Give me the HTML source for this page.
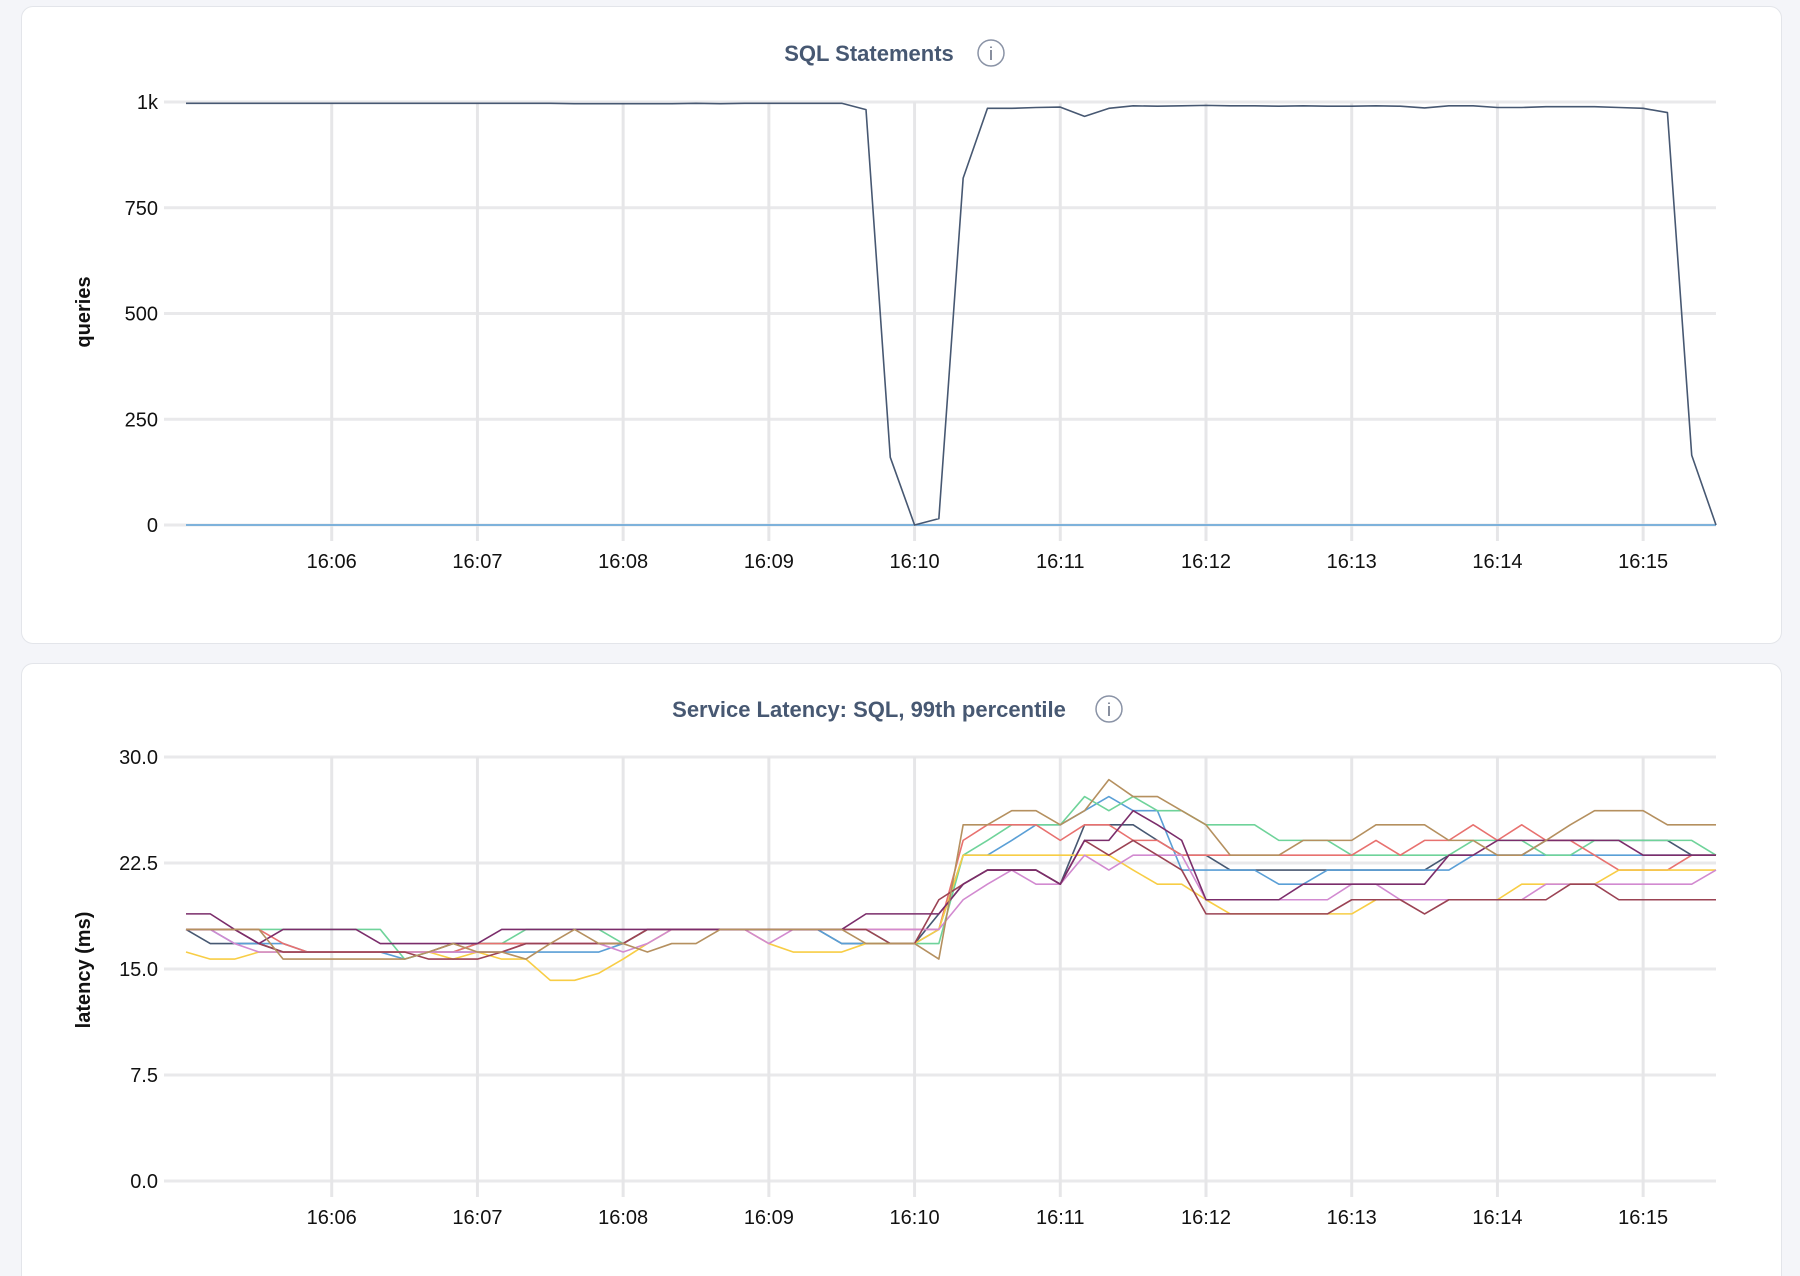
<!DOCTYPE html>
<html><head><meta charset="utf-8"><style>
html,body{margin:0;padding:0;background:#f4f5f9;width:1800px;height:1276px;overflow:hidden;font-family:"Liberation Sans",sans-serif}
#wrap{position:relative;width:1800px;height:1276px;overflow:hidden}
.panel{position:absolute;left:21px;width:1761px;background:#fff;border:1px solid #e3e5ea;border-radius:12px;box-sizing:border-box}
svg{position:absolute;left:0;top:0}
</style></head><body>
<div id="wrap">
<div class="panel" style="top:6px;height:638px"></div>
<div class="panel" style="top:663px;height:613px;border-bottom:none;border-radius:12px 12px 0 0"></div>
<svg id="chart" width="1800" height="1276"></svg>
</div>
<script>
const timeTicks=["16:06","16:07","16:08","16:09","16:10","16:11","16:12","16:13","16:14","16:15"];
const sqlTicks=[0,250,500,750,1000];
const sqlTickLabels=["0","250","500","750","1k"];
const latTicks=[0,7.5,15,22.5,30];
const latTickLabels=["0.0","7.5","15.0","22.5","30.0"];
// 64 samples every 10s starting 16:05:00
const sqlMain=[997,997,997,997,997,997,997,997,997,997,997,997,997,997,997,997,996,996,996,996,996,997,996,997,997,997,997,997,982,160,0,15,820,985,985,987,988,966,985,991,990,991,992,991,991,990,991,990,990,991,990,986,991,991,987,987,989,989,989,987,985,975,165,0];
const sqlZero=new Array(64).fill(0);
const latNavy=[17.8,16.8,16.8,16.8,16.2,16.2,16.2,16.2,16.2,16.2,16.2,16.8,16.8,16.8,16.8,16.8,16.8,16.8,16.8,17.8,17.8,17.8,17.8,17.8,17.8,17.8,17.8,16.8,16.8,16.8,16.8,18.9,21.0,22.0,22.0,22.0,21.0,25.2,25.2,25.2,24.1,23.05,23.05,22.0,22.0,22.0,22.0,22.0,22.0,22.0,22.0,22.0,23.05,23.05,23.05,23.05,24.1,24.1,24.1,24.1,24.1,24.1,23.05,23.05];
const latBlue=[17.8,17.8,16.8,16.8,16.8,16.2,16.2,16.2,16.2,15.7,16.2,16.2,16.2,16.2,16.2,16.2,16.2,16.2,16.8,17.8,17.8,17.8,17.8,17.8,17.8,17.8,17.8,16.8,16.8,16.8,16.8,17.8,23.05,23.05,24.1,25.2,25.2,26.2,27.2,26.2,26.2,22.0,22.0,22.0,22.0,21.0,21.0,22.0,22.0,22.0,22.0,22.0,22.0,23.05,23.05,23.05,23.05,23.05,23.05,23.05,23.05,23.05,23.05,23.05];
const latGreen=[17.8,17.8,17.8,17.8,17.8,17.8,17.8,17.8,17.8,15.7,16.2,16.2,16.8,16.8,17.8,17.8,17.8,17.8,16.8,17.8,17.8,17.8,17.8,17.8,17.8,17.8,17.8,17.8,17.8,16.8,16.8,16.8,23.05,24.1,25.2,25.2,25.2,27.2,26.2,27.2,26.2,26.2,25.2,25.2,25.2,24.1,24.1,24.1,23.05,23.05,23.05,23.05,23.05,24.1,24.1,24.1,23.05,23.05,24.1,24.1,24.1,24.1,24.1,23.05];
const latRed=[17.8,17.8,17.8,17.8,16.8,16.2,16.2,16.2,16.2,16.2,16.2,16.2,16.8,16.8,16.8,16.8,16.8,16.8,16.8,17.8,17.8,17.8,17.8,17.8,17.8,17.8,17.8,17.8,17.8,17.8,17.8,17.8,24.1,25.2,25.2,25.2,24.1,25.2,25.2,24.1,24.1,23.05,23.05,23.05,23.05,23.05,23.05,23.05,23.05,24.1,23.05,24.1,24.1,25.2,24.1,25.2,24.1,24.1,23.05,22.0,22.0,22.0,23.05,23.05];
const latYellow=[16.2,15.7,15.7,16.2,16.2,16.2,16.2,16.2,16.2,16.2,16.2,15.7,16.2,15.7,15.7,14.2,14.2,14.7,15.7,16.8,17.8,17.8,17.8,17.8,16.8,16.2,16.2,16.2,16.8,16.8,16.8,17.8,23.05,23.05,23.05,23.05,23.05,23.05,23.05,22.0,21.0,21.0,19.9,18.9,18.9,18.9,18.9,18.9,18.9,19.9,19.9,19.9,19.9,19.9,19.9,21.0,21.0,21.0,21.0,22.0,22.0,22.0,22.0,22.0];
const latPink=[17.8,17.8,16.8,16.2,16.2,16.2,16.2,16.2,16.2,16.2,16.2,16.2,16.2,16.2,16.8,16.8,16.8,16.8,16.2,16.8,17.8,17.8,17.8,17.8,16.8,17.8,17.8,17.8,17.8,17.8,17.8,17.8,19.9,21.0,22.0,21.0,21.0,23.05,22.0,23.05,23.05,23.05,19.9,19.9,19.9,19.9,19.9,19.9,21.0,21.0,19.9,19.9,19.9,19.9,19.9,19.9,21.0,21.0,21.0,21.0,21.0,21.0,21.0,22.0];
const latMaroon=[17.8,17.8,17.8,16.8,16.2,16.2,16.2,16.2,16.2,16.2,15.7,15.7,15.7,16.2,16.8,16.8,16.8,16.8,16.8,17.8,17.8,17.8,17.8,17.8,17.8,17.8,17.8,17.8,17.8,16.8,16.8,19.9,21.0,22.0,22.0,22.0,21.0,24.1,23.05,24.1,23.05,22.0,18.9,18.9,18.9,18.9,18.9,18.9,19.9,19.9,19.9,18.9,19.9,19.9,19.9,19.9,19.9,21.0,21.0,19.9,19.9,19.9,19.9,19.9];
const latPurple=[18.9,18.9,17.8,16.8,17.8,17.8,17.8,17.8,16.8,16.8,16.8,16.8,16.8,17.8,17.8,17.8,17.8,17.8,17.8,17.8,17.8,17.8,17.8,17.8,17.8,17.8,17.8,17.8,18.9,18.9,18.9,18.9,21.0,22.0,22.0,22.0,21.0,24.1,24.1,26.2,25.2,24.1,19.9,19.9,19.9,19.9,21.0,21.0,21.0,21.0,21.0,21.0,23.05,23.05,24.1,24.1,24.1,24.1,24.1,24.1,23.05,23.05,23.05,23.05];
const latTan=[17.8,17.8,17.8,17.8,15.7,15.7,15.7,15.7,15.7,15.7,16.2,16.8,16.2,16.2,15.7,16.8,17.8,16.8,16.8,16.2,16.8,16.8,17.8,17.8,17.8,17.8,17.8,17.8,16.8,16.8,16.8,15.7,25.2,25.2,26.2,26.2,25.2,26.2,28.4,27.2,27.2,26.2,25.2,23.05,23.05,23.05,24.1,24.1,24.1,25.2,25.2,25.2,24.1,24.1,23.05,23.05,24.1,25.2,26.2,26.2,26.2,25.2,25.2,25.2];
const latSeries=[[latNavy,"#475872"],[latBlue,"#5a9fd6"],[latGreen,"#6fd39a"],[latRed,"#e8716f"],[latYellow,"#f8cd45"],[latPink,"#d28ad0"],[latMaroon,"#9b4354"],[latPurple,"#7b2d6b"],[latTan,"#b5905f"]];

const NS="http://www.w3.org/2000/svg";
const svg=document.getElementById("chart");
function mk(tag,attrs,parent){const e=document.createElementNS(NS,tag);for(const k in attrs)e.setAttribute(k,attrs[k]);(parent||svg).appendChild(e);return e;}
const X0=186,X1=1716;
function xIdx(i){return X0+i*(X1-X0)/63;}
function xMin(m){return X0+(m+1)*(X1-X0)/10.5;}

function drawChart(cfg){
  const g=mk("g",{});
  
  
  const y=v=>cfg.y0-(v-cfg.min)/(cfg.max-cfg.min)*(cfg.y0-cfg.y1);
  cfg.ticks.forEach((t,i)=>{
    const l=mk("line",{x1:X0-22,x2:X1,y1:y(t),y2:y(t),stroke:"#e9e9eb","stroke-width":3},g);
    
    
    const tx=mk("text",{x:158,y:y(t)+7,"text-anchor":"end","font-size":20,fill:"#111"},g);
    tx.textContent=cfg.labels[i];
    
    
  });
  timeTicks.forEach((t,i)=>{
    const x=xMin(i);
    const l=mk("line",{x1:x,x2:x,y1:cfg.y1,y2:cfg.y0+16,stroke:"#e6e6e8","stroke-width":3},g);
    
    
    const tx=mk("text",{x:x,y:cfg.y0+43,"text-anchor":"middle","font-size":20,fill:"#111"},g);
    tx.textContent=t;
    
    
  });
  const at=mk("text",{transform:`translate(90,${cfg.titleY}) rotate(-90)`,"text-anchor":"middle","font-size":20,"font-weight":"bold",fill:"#111"},g);
  at.textContent=cfg.axisTitle;
  
  
  cfg.series.forEach(([arr,col],k)=>{
    const p=mk("polyline",{points:arr.map((v,i)=>xIdx(i)+","+y(v)).join(" "),fill:"none",stroke:col,"stroke-width":1.6,"stroke-linejoin":"round"},g);
    
    
  });
  const tt=mk("text",{x:cfg.headX,y:cfg.headY,"text-anchor":"middle","font-size":22,"font-weight":"bold",fill:"#475872"},g);
  tt.textContent=cfg.title;
  
  
  const ic=mk("g",{},g);
  
  
  mk("circle",{cx:cfg.iconX,cy:cfg.headY-8,r:13,fill:"none",stroke:"#8a93a6","stroke-width":1.5},ic);
  const it=mk("text",{x:cfg.iconX,y:cfg.headY-1,"text-anchor":"middle","font-size":18,fill:"#6b7488"},ic);
  it.textContent="i";
}
drawChart({name:"sql-statements-chart",min:0,max:1000,y0:525,y1:102,ticks:sqlTicks,labels:sqlTickLabels,axisTitle:"queries",titleY:312,
  series:[[sqlZero,"#5a9fd6"],[sqlMain,"#475872"]],title:"SQL Statements",headX:869,headY:61,iconX:991});
drawChart({name:"service-latency-chart",min:0,max:30,y0:1181,y1:757,ticks:latTicks,labels:latTickLabels,axisTitle:"latency (ms)",titleY:970,
  series:latSeries,title:"Service Latency: SQL, 99th percentile",headX:869,headY:717,iconX:1109});
</script>
</body></html>
